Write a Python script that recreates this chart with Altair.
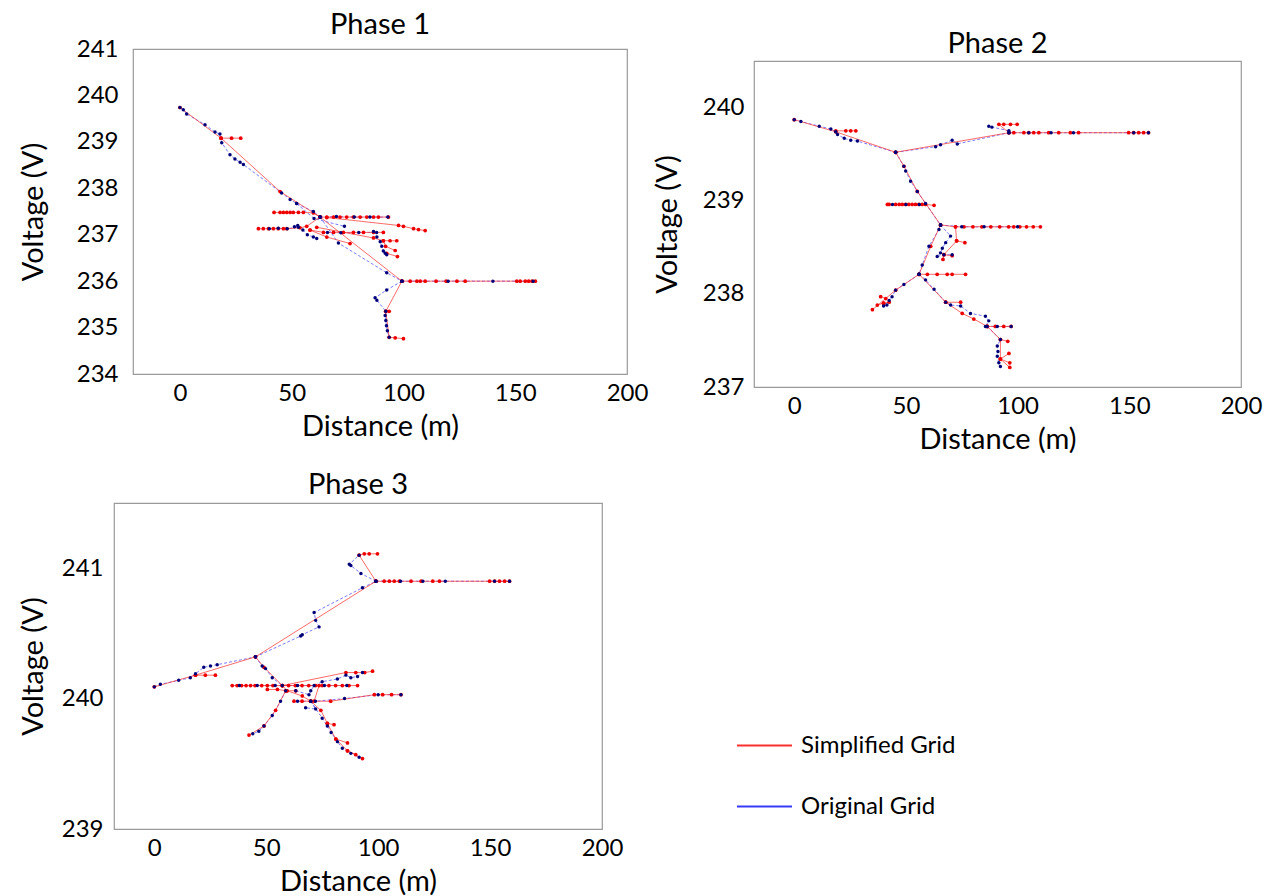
import altair as alt
import pandas as pd

FONT = "Lato"
GRIDS = ["Simplified Grid", "Original Grid"]
X_TICKS = [0, 50, 100, 150, 200]

# ---------------- Phase 1 (distance m, voltage V) ----------------
P1_SIMPLIFIED = [
    [(0, 239.74), (18.4, 239.08), (44.8, 237.93), (62.7, 237.38), (99.3, 236.0)],
    [(18.4, 239.08), (23.1, 239.08), (27.2, 239.08)],
    [(99.3, 236.0), (103, 236.0), (106, 236.0), (107.5, 236.0), (109.7, 236.0), (114.6, 236.0),
     (119.1, 236.0), (123.9, 236.0), (127.6, 236.0), (150.7, 236.0), (152.2, 236.0), (154.5, 236.0),
     (156, 236.0), (157.5, 236.0), (159, 236.0)],
    [(99.3, 236.0), (92.1, 235.35), (93.6, 234.79), (96.3, 234.78), (100, 234.76)],
    [(92.1, 235.35), (93.6, 235.35)],
    [(42.1, 237.48), (44.8, 237.48), (46.3, 237.48), (47.8, 237.48), (49.3, 237.48), (50.7, 237.48),
     (53, 237.48), (55.2, 237.48), (59.7, 237.47), (62.7, 237.38)],
    [(62.7, 237.38), (65.7, 237.38), (68.7, 237.38), (71.6, 237.38), (74.6, 237.38), (77.6, 237.38),
     (80.6, 237.38), (83.6, 237.38), (86.6, 237.38), (88.8, 237.38), (93.3, 237.38)],
    [(65.7, 237.37), (97.8, 237.2), (100, 237.18), (104.5, 237.13), (106.7, 237.11), (109.7, 237.09)],
    [(35.1, 237.13), (37.3, 237.13), (39.6, 237.13), (41.8, 237.13), (44, 237.13), (46.3, 237.13),
     (47.8, 237.13), (53.7, 237.15), (56.7, 237.18), (62.7, 237.38)],
    [(58.2, 237.1), (64.2, 237.05), (68.7, 237.05), (73.1, 237.05), (77.6, 237.05), (82.1, 237.05),
     (86.6, 237.05), (91, 237.05)],
    [(58.2, 237.1), (65.7, 236.95), (76.1, 236.81)],
    [(61.2, 237.16), (86.6, 236.93), (91, 236.87), (94, 236.87), (97, 236.87)],
    [(91, 236.87), (92, 236.75), (96.3, 236.66)],
    [(92.5, 236.6), (97.3, 236.53)],
]
P1_ORIGINAL = [
    [(0, 239.74), (1.5, 239.69), (3, 239.6), (11.2, 239.37), (15.7, 239.21), (17.9, 239.17),
     (18.7, 238.98), (22.4, 238.72), (24.6, 238.63), (26.9, 238.56), (28.4, 238.51), (45.5, 237.9),
     (49.3, 237.76), (52.2, 237.67), (59.7, 237.5), (62.7, 237.38)],
    [(52.2, 237.67), (60, 237.35), (73.6, 237.18)],
    [(62.7, 237.38), (70.9, 236.82), (92.5, 236.18), (99.3, 236.0)],
    [(99.3, 236.0), (92.5, 235.81), (87.3, 235.64), (88.1, 235.59), (92.1, 235.35), (91.8, 235.26),
     (92.1, 235.15), (92.4, 235.04), (92.8, 234.93), (93.6, 234.79)],
    [(62.7, 237.38), (70, 237.39), (78, 237.38), (85, 237.38), (93, 237.38)],
    [(86.6, 237.07), (88.1, 236.95), (89.6, 236.85), (90.3, 236.75), (91, 236.65), (91.8, 236.6),
     (92.5, 236.57)],
    [(51.2, 237.17), (52.7, 237.2), (55, 237.1), (57, 237.0), (59.7, 236.95), (61.2, 236.92)],
    [(40, 237.13), (44, 237.14), (48, 237.13), (53, 237.16)],
    [(66, 237.05), (72, 237.04), (80, 237.05), (88, 237.05)],
    [(99.3, 236.0), (120, 236.0), (140, 236.0), (158, 236.0)],
]

# ---------------- Phase 2 ----------------
P2_SIMPLIFIED = [
    [(0, 239.87), (18.6, 239.74), (45.4, 239.52)],
    [(18.6, 239.75), (23.1, 239.75), (25.3, 239.75), (27.6, 239.75)],
    [(45.4, 239.52), (96.1, 239.73), (98.3, 239.73), (102.8, 239.73), (105, 239.73), (107.2, 239.73),
     (109.5, 239.73), (113.9, 239.73), (118.4, 239.73), (123.6, 239.73), (127.3, 239.73),
     (149.7, 239.73), (151.9, 239.73), (154.2, 239.73), (156.4, 239.73), (158.6, 239.73)],
    [(96.1, 239.73), (91.6, 239.82), (93.8, 239.82), (96.8, 239.82), (99.8, 239.82)],
    [(45.4, 239.52), (49.1, 239.37), (55.1, 239.10), (65.5, 238.74), (61.1, 238.51), (55.9, 238.21)],
    [(41.7, 238.96), (42.5, 238.96), (45.4, 238.96), (47, 238.96), (48.4, 238.96), (49.9, 238.96),
     (51.3, 238.96), (52.8, 238.96), (54.3, 238.96), (55.8, 238.96), (57.3, 238.96), (58.8, 238.96),
     (62.6, 238.95)],
    [(65.5, 238.74), (72.2, 238.72), (76, 238.72), (80, 238.72), (84, 238.72), (88, 238.72),
     (92, 238.72), (96, 238.72), (98.3, 238.72), (101, 238.72), (104, 238.72), (107, 238.72),
     (110.2, 238.72)],
    [(72.2, 238.72), (72.7, 238.57), (76.4, 238.55)],
    [(72.7, 238.57), (67.0, 238.42), (70.7, 238.41)],
    [(67.0, 238.42), (66.6, 238.37)],
    [(55.9, 238.21), (59.6, 238.21), (64, 238.21), (68.5, 238.21), (70.7, 238.21), (76.7, 238.21)],
    [(55.9, 238.21), (45.4, 238.04), (35, 237.83)],
    [(41, 237.95), (38.7, 237.97)],
    [(40, 237.9), (37.2, 237.88)],
    [(40, 237.9), (42.5, 237.91)],
    [(55.9, 238.21), (67.8, 237.91), (74.5, 237.91)],
    [(67.8, 237.91), (75.2, 237.79), (80.4, 237.73), (86.4, 237.65)],
    [(86.4, 237.65), (90, 237.65), (93.8, 237.65), (97.1, 237.65)],
    [(86.4, 237.65), (92.3, 237.51), (95.6, 237.49)],
    [(92.3, 237.51), (92.3, 237.30), (96.1, 237.36)],
    [(92.3, 237.30), (96.5, 237.26)],
    [(92.3, 237.30), (96.5, 237.21)],
]
P2_ORIGINAL = [
    [(0, 239.87), (3, 239.85), (11.2, 239.80), (16.4, 239.77), (18.6, 239.74), (19.4, 239.71),
     (22.4, 239.67), (25.3, 239.65), (28.3, 239.64), (45.4, 239.52)],
    [(45.4, 239.52), (63.3, 239.58), (65.5, 239.60), (70.7, 239.65), (73.0, 239.61), (96.1, 239.73)],
    [(96.1, 239.75), (87.1, 239.80), (88.5, 239.79)],
    [(96.1, 239.73), (105, 239.73), (115, 239.73), (125, 239.73), (152, 239.73), (158.6, 239.73)],
    [(45.4, 239.52), (49.1, 239.37), (49.9, 239.32), (52.1, 239.21), (55.1, 239.10), (58.8, 238.97),
     (65.5, 238.74), (64.8, 238.69), (60.3, 238.51), (57.3, 238.31), (55.9, 238.21)],
    [(65.5, 238.74), (70.0, 238.62), (67.8, 238.55), (66.3, 238.49), (65.5, 238.44), (64.0, 238.40),
     (67.0, 238.42), (70.7, 238.42)],
    [(55.9, 238.21), (49.1, 238.1), (45.4, 238.04), (43.8, 237.97), (42.5, 237.93), (41.5, 237.88),
     (40, 237.87)],
    [(55.9, 238.21), (58.8, 238.15), (62.6, 238.05), (67.8, 237.91), (70.0, 237.88), (74.5, 237.87),
     (78.9, 237.79), (85.6, 237.76), (87.1, 237.71), (85.6, 237.65), (90.9, 237.65), (97.1, 237.65)],
    [(86.4, 237.65), (92.3, 237.51), (90.9, 237.44), (91.2, 237.38), (90.9, 237.33), (91.6, 237.26),
     (92.3, 237.22)],
    [(65.5, 238.74), (75, 238.72), (85, 238.72), (100, 238.72)],
    [(44, 238.96), (50, 238.96), (56, 238.96)],
]

# ---------------- Phase 3 ----------------
P3_SIMPLIFIED = [
    [(0, 240.09), (18.4, 240.18), (45.2, 240.32), (99.0, 240.90)],
    [(18.4, 240.18), (22.8, 240.18), (27.3, 240.18)],
    [(99.0, 240.90), (102.7, 240.9), (105, 240.9), (107.2, 240.9), (109.5, 240.9), (114.7, 240.9),
     (119.2, 240.9), (124.4, 240.9), (127.4, 240.9), (149.8, 240.9), (152, 240.9), (154.2, 240.9),
     (156.5, 240.9), (158.7, 240.9)],
    [(99.0, 240.90), (91.5, 241.10), (93.8, 241.11), (96.0, 241.11), (99.7, 241.11)],
    [(45.2, 240.32), (49.0, 240.24), (57.2, 240.10)],
    [(34.8, 240.1), (37, 240.1), (39, 240.1), (41, 240.1), (43, 240.1), (45, 240.1), (48, 240.1),
     (50.5, 240.1), (53, 240.1), (57.2, 240.1), (60, 240.1), (63, 240.1), (66, 240.1), (69, 240.1),
     (72, 240.1), (75, 240.1), (78, 240.1), (81, 240.1), (84, 240.1), (87, 240.1), (90.8, 240.1)],
    [(50.5, 240.07), (55, 240.07), (59, 240.06), (63.2, 240.06)],
    [(57.2, 240.10), (59.4, 240.06), (66.1, 240.02), (69.9, 239.98)],
    [(57.2, 240.1), (85.6, 240.2), (90, 240.2), (94, 240.2), (97.5, 240.21)],
    [(62.4, 239.98), (66, 239.98), (69.9, 239.98), (78.8, 239.98), (98.3, 240.03), (102, 240.03),
     (106, 240.03), (110.2, 240.03)],
    [(58.7, 240.06), (54.2, 239.91), (49.0, 239.79), (42.3, 239.72)],
    [(69.9, 239.98), (74.4, 239.91), (77.3, 239.81), (81.1, 239.69), (86.3, 239.60), (93.0, 239.54)],
    [(77.3, 239.81), (80.3, 239.80)],
    [(81.1, 239.69), (86.3, 239.66)],
    [(86.3, 239.60), (90, 239.57)],
    [(73.6, 240.1), (71.4, 239.98)],
]
P3_ORIGINAL = [
    [(0, 240.09), (2.7, 240.11), (10.9, 240.14), (16.1, 240.16), (18.4, 240.19), (22.1, 240.24),
     (25.1, 240.25), (28.1, 240.26), (45.2, 240.32)],
    [(45.2, 240.32), (65.4, 240.48), (66.1, 240.49), (73.6, 240.55), (72.1, 240.60), (71.4, 240.66),
     (93.0, 240.85), (99.0, 240.90)],
    [(99.0, 240.9), (92.3, 240.96), (87.8, 241.02), (87.1, 241.03), (91.5, 241.10)],
    [(99.0, 240.9), (110, 240.9), (120, 240.9), (130, 240.9), (152, 240.9), (158.7, 240.9)],
    [(45.2, 240.32), (48.2, 240.25), (49.7, 240.23), (52.7, 240.16), (57.2, 240.10)],
    [(63.2, 240.06), (69.1, 240.03), (69.9, 240.06), (71.4, 240.1), (75, 240.13), (81.8, 240.15),
     (85.6, 240.18), (87.8, 240.16), (90.8, 240.17), (93, 240.2)],
    [(69.9, 239.98), (72.1, 239.92), (67.6, 239.93)],
    [(58.7, 240.06), (56.4, 239.98), (52.7, 239.87), (49.0, 239.79), (46.7, 239.75), (44.0, 239.73)],
    [(69.9, 239.98), (75, 239.85), (77.3, 239.79), (79, 239.74), (81.8, 239.67), (84, 239.62),
     (87.8, 239.58), (91.5, 239.55)],
    [(38, 240.1), (46, 240.1), (54, 240.1), (64, 240.1), (76, 240.1), (86, 240.1)],
    [(64, 239.98), (72, 239.98), (85, 240.0), (100, 240.03), (110.2, 240.03)],
]

RED_LINE = "#ff3030"
BLUE_LINE = "#3a3aff"


def table(branches, grid):
    rows = []
    for b, br in enumerate(branches):
        for i, (x, y) in enumerate(br):
            rows.append({"branch": b, "order": i, "distance": x, "voltage": y, "grid": grid})
    return pd.DataFrame(rows)


def panel(title, simp, orig, xdom, ydom, yticks, width, height,
          ylabpad, ytitlepad, toffset):
    ds = table(simp, GRIDS[0])
    do = table(orig, GRIDS[1])
    x = alt.X("distance:Q",
              scale=alt.Scale(domain=xdom, nice=False, zero=False),
              axis=alt.Axis(values=X_TICKS, title="Distance (m)", labelPadding=7,
                            titlePadding=7, labelFlush=False))
    y = alt.Y("voltage:Q",
              scale=alt.Scale(domain=ydom, nice=False, zero=False),
              axis=alt.Axis(values=yticks, title="Voltage (V)", labelPadding=ylabpad,
                            titlePadding=ytitlepad, format="d", labelFlush=False))
    blue_line = alt.Chart(do).mark_line(strokeWidth=0.9, strokeDash=[3, 2], opacity=0.75,
                                        color=BLUE_LINE).encode(
        x=x, y=y, detail="branch:N", order="order:Q")
    red_line = alt.Chart(ds).mark_line(strokeWidth=0.9, opacity=0.8, color=RED_LINE).encode(
        x=x, y=y, detail="branch:N", order="order:Q")
    red_pts = alt.Chart(ds).mark_circle(size=14, color="#ee0000", opacity=1).encode(x=x, y=y)
    blue_pts = alt.Chart(do).mark_circle(size=12, color="#000078", opacity=1).encode(x=x, y=y)
    return alt.layer(blue_line, red_line, red_pts, blue_pts).properties(
        width=width, height=height, title=alt.TitleParams(title, offset=toffset))


def spacer(h, w=1):
    return alt.Chart(pd.DataFrame({"v": [0]})).mark_point(opacity=0, size=1).encode(
        x=alt.value(0), y=alt.value(0)).properties(
        width=w, height=h, view=alt.ViewBackground(strokeOpacity=0))


p1 = panel("Phase 1", P1_SIMPLIFIED, P1_ORIGINAL, [-21, 200], [234, 241],
           [234, 235, 236, 237, 238, 239, 240, 241], 494, 325, 15, 28, -3)
p2 = panel("Phase 2", P2_SIMPLIFIED, P2_ORIGINAL, [-18, 200], [237, 240.5],
           [237, 238, 239, 240], 487, 326, 10, 20, 2)
p3 = panel("Phase 3", P3_SIMPLIFIED, P3_ORIGINAL, [-18, 200], [239, 241.5],
           [239, 240, 241], 488, 326, 11, 13, 3)

# legend-only cell (single-point series draw nothing, only the legend shows)
legend_df = pd.DataFrame({"grid": GRIDS})
legend_chart = alt.Chart(legend_df).mark_line(strokeWidth=2).encode(
    x=alt.value(0), y=alt.value(0),
    color=alt.Color("grid:N", scale=alt.Scale(domain=GRIDS, range=[RED_LINE, BLUE_LINE]),
                    legend=alt.Legend(orient="none", legendX=-18, legendY=258, title=None,
                                      symbolType="stroke", symbolSize=3025,
                                      symbolStrokeWidth=2, labelFont=FONT, labelFontSize=24,
                                      labelColor="black", rowPadding=20, labelOffset=8))
).properties(width=1, height=1, view=alt.ViewBackground(strokeOpacity=0))

rows_a = alt.vconcat(alt.hconcat(spacer(1), p1, spacing=0),
                     alt.hconcat(spacer(1), p3, spacing=0), spacing=28)
col_a = alt.vconcat(spacer(1), rows_a, spacing=0)
col_b2 = alt.vconcat(p2, legend_chart, spacing=0).resolve_scale(
    color="independent").resolve_legend(color="independent")
col_b = alt.vconcat(spacer(20), col_b2, spacing=0).resolve_scale(
    color="independent").resolve_legend(color="independent")

chart = alt.hconcat(col_a, col_b, spacing=3).resolve_scale(
    color="independent").resolve_legend(color="independent").properties(
    padding={"left": 8, "top": 0, "right": 5, "bottom": 0}
).configure_axis(
    labelFont=FONT, labelFontSize=24, labelColor="black",
    titleFont=FONT, titleFontSize=29, titleFontWeight="normal", titleColor="black",
    domain=False, ticks=False, tickSize=0, grid=False
).configure_title(
    font=FONT, fontSize=29, fontWeight="normal", color="black", anchor="middle"
).configure_view(stroke="#9a9a9a", strokeWidth=1.2)

chart.save("out.html", embed_options={"renderer": "svg", "actions": False})
